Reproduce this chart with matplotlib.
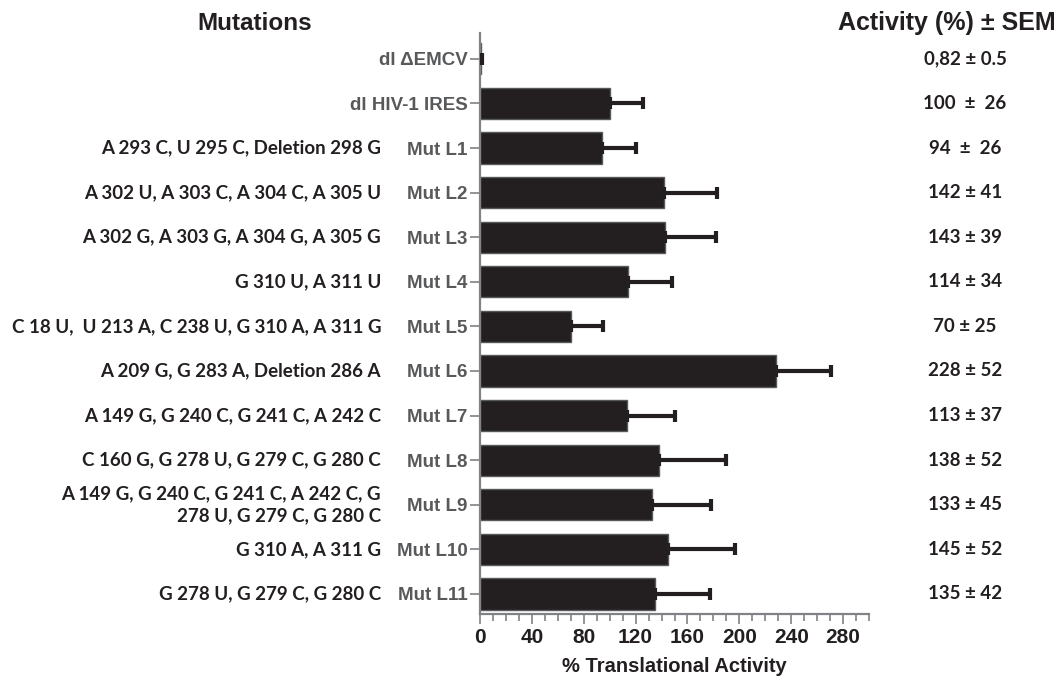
import matplotlib

matplotlib.use('Agg')
import matplotlib.pyplot as plt
import matplotlib.transforms as mtransforms
import numpy as np

# данные
names = ['dl \u0394EMCV', 'dl HIV-1 IRES', 'Mut L1', 'Mut L2', 'Mut L3', 'Mut L4', 'Mut L5',
         'Mut L6', 'Mut L7', 'Mut L8', 'Mut L9', 'Mut L10', 'Mut L11']
mutations = ['', '',
             'A 293 C, U 295 C, Deletion 298 G',
             'A 302 U, A 303 C, A 304 C, A 305 U',
             'A 302 G, A 303 G, A 304 G, A 305 G',
             'G 310 U, A 311 U',
             'C 18 U,  U 213 A, C 238 U, G 310 A, A 311 G',
             'A 209 G, G 283 A, Deletion 286 A',
             'A 149 G, G 240 C, G 241 C, A 242 C',
             'C 160 G, G 278 U, G 279 C, G 280 C',
             'A 149 G, G 240 C, G 241 C, A 242 C, G\n278 U, G 279 C, G 280 C',
             'G 310 A, A 311 G',
             'G 278 U, G 279 C, G 280 C']
activity = [0.82, 100, 94, 142, 143, 114, 70, 228, 113, 138, 133, 145, 135]
# длина планок, как нарисовано
sem_drawn = [0.5, 26, 26, 41, 39, 34, 25, 43, 37, 52, 45, 52, 42]
activity_labels = ['0,82 \u00b1 0.5', '100  \u00b1  26', '94  \u00b1  26', '142 \u00b1 41', '143 \u00b1 39',
                   '114 \u00b1 34', '70 \u00b1 25', '228 \u00b1 52', '113 \u00b1 37', '138 \u00b1 52',
                   '133 \u00b1 45', '145 \u00b1 52', '135 \u00b1 42']

dark = '#231f20'
gray = '#58595b'
arial = 'Liberation Sans'
calibri = 'Lato'

fig = plt.figure(figsize=(10.58, 6.76), dpi=100)
ax = fig.add_axes([480 / 1058, 1 - 614 / 676, 389 / 1058, 581 / 676])

y = np.arange(len(names))
ax.barh(y, activity, height=0.7, color=dark, edgecolor=gray, linewidth=1, zorder=2)
ax.errorbar(activity, y, xerr=[np.zeros(len(y)), sem_drawn], fmt='none', ecolor=dark,
            elinewidth=3, capsize=4.5, capthick=3, zorder=3)

ax.set_ylim(len(names) - 1 + 0.45, -0.58)
ax.set_xlim(0, 300)
ax.set_xticks(np.arange(0, 281, 40))
ax.set_xticks(np.arange(0, 301, 10), minor=True)
ax.set_yticks(y)
ax.set_yticklabels(names)

for s in ['top', 'right']:
    ax.spines[s].set_visible(False)
for s in ['left', 'bottom']:
    ax.spines[s].set_color('#808285')
    ax.spines[s].set_linewidth(1.6)
ax.tick_params(axis='y', length=7, width=1.2, color='#808285', pad=2)
ax.tick_params(axis='x', which='major', length=7, width=1.2, color='#808285', pad=3)
ax.tick_params(axis='x', which='minor', length=5, width=1.2, color='#808285')

for t in ax.get_yticklabels():
    t.set_fontfamily(arial)
    t.set_fontweight('bold')
    t.set_fontsize(13.5)
    t.set_color(gray)
for t in ax.get_xticklabels():
    t.set_fontfamily(arial)
    t.set_fontweight('bold')
    t.set_fontsize(15)
    t.set_color(dark)

ax.set_xlabel('% Translational Activity', fontfamily=arial, fontweight='bold', fontsize=14.5,
              color=dark, labelpad=7)

trans = mtransforms.blended_transform_factory(fig.transFigure, ax.transData)
for i in range(len(names)):
    if mutations[i]:
        ax.text(381 / 1058, y[i], mutations[i], transform=trans, ha='right', va='center',
                fontfamily=calibri, fontweight='bold', fontsize=13.5, color=dark,
                linespacing=1.35)
    ax.text(965 / 1058, y[i], activity_labels[i], transform=trans, ha='center', va='center',
            fontfamily=calibri, fontweight='bold', fontsize=13.5, color=dark)

fig.text(255 / 1058, 1 - 23 / 676, 'Mutations', ha='center', va='center', fontfamily=arial,
         fontweight='bold', fontsize=17.5, color=dark)
fig.text(1056 / 1058, 1 - 23 / 676, 'Activity (%) \u00b1 SEM', ha='right', va='center',
         fontfamily=arial, fontweight='bold', fontsize=18, color=dark)

fig.savefig('out.png', dpi=100)
